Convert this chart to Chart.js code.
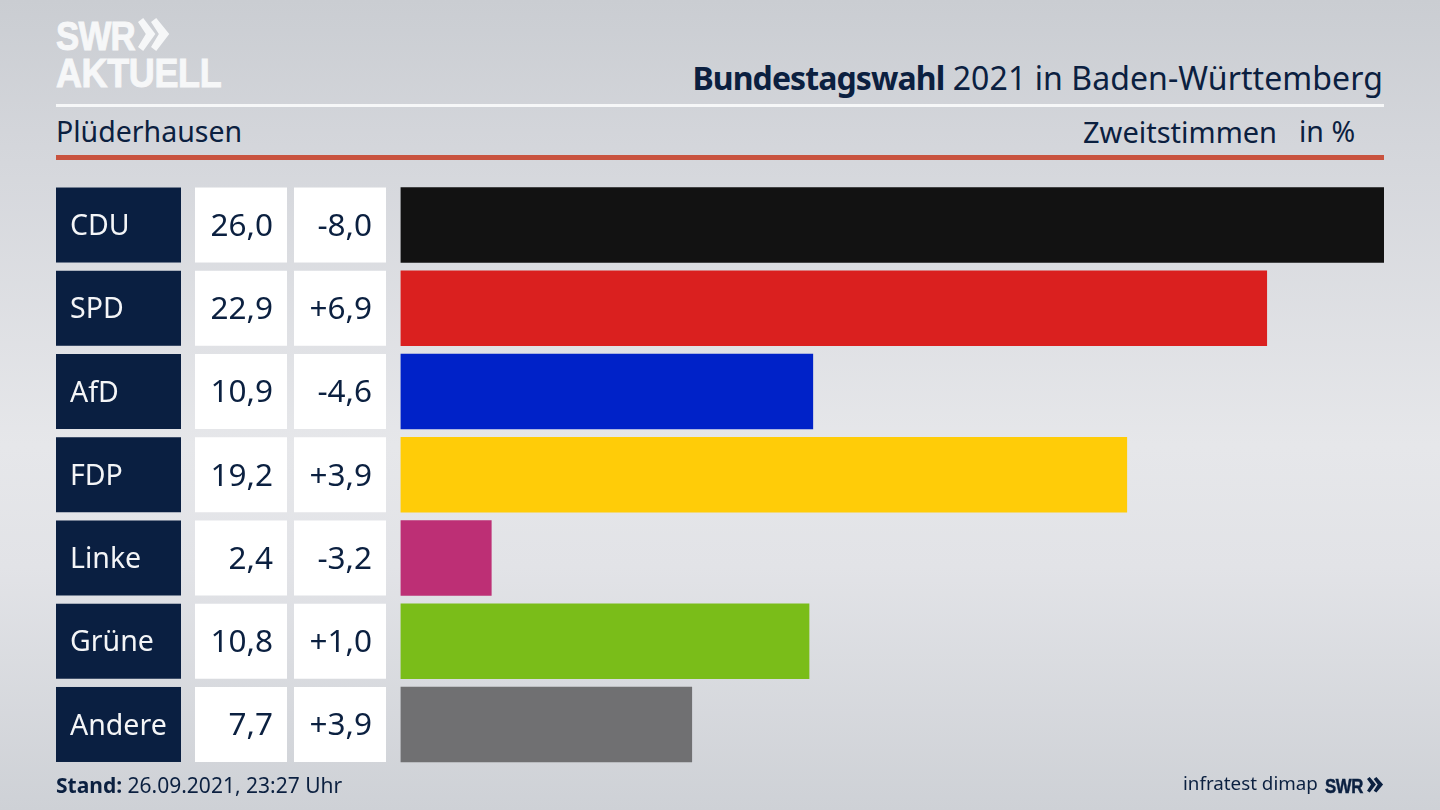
<!DOCTYPE html>
<html lang="de">
<head>
<meta charset="utf-8">
<title>Bundestagswahl 2021 in Baden-Württemberg</title>
<script src="https://cdn.jsdelivr.net/npm/chart.js@4"></script>
<style>
    html, body {
        margin: 0;
        width: 1440px;
        height: 810px;
        overflow: hidden;
    }

    body {
        position: relative;
        background: linear-gradient(180deg, #cacdd2 0%, #d5d7dc 20%, #e6e7ea 55%, #e2e3e7 70%, #ced1d6 100%);
        font-family: "Noto Sans", sans-serif;
        color: #0b2040;
    }

    canvas {
        position: absolute;
        left: 0;
        top: 0;
    }

    .txt {
        position: absolute;
        white-space: nowrap;
        line-height: 1;
    }

    .rule {
        position: absolute;
        left: 56px;
        width: 1328px;
    }

    .logo {
        color: #f6f7f8;
        font-family: "Liberation Sans", sans-serif;
        font-weight: 700;
        transform-origin: left top;
        -webkit-text-stroke: 1px #f6f7f8;
    }
</style>
</head>
<body>

<div class="txt logo" style="left:56px; top:16px; font-size:41px; letter-spacing:-1px; transform:scaleX(0.85);">SWR</div>
<svg style="position:absolute; left:138px; top:18px;" width="33" height="34" viewBox="0 0 38 34" preserveAspectRatio="none">
    <polygon fill="#f6f7f8" points="0,4 6,0 20,16 6,33 0,29 9,16"/>
    <polygon fill="#f6f7f8" points="15,4 21,0 36,16 21,33 15,29 24,16"/>
</svg>
<div class="txt logo" style="left:56px; top:53px; font-size:41px; letter-spacing:-0.4px; transform:scaleX(0.877);">AKTUELL</div>

<div class="txt" style="right:57px; top:62px; font-size:32px; letter-spacing:0.08px;"><b style="letter-spacing:-0.9px;">Bundestagswahl</b> 2021 in Baden-Württemberg</div>
<div class="rule" style="top:104px; height:3px; background:#f6f7f8;"></div>

<div class="txt" style="left:56px; top:116.5px; font-size:28.5px;">Plüderhausen</div>
<div class="txt" style="left:1083px; top:116.5px; font-size:29px;">Zweitstimmen</div>
<div class="txt" style="left:1299px; top:116.5px; font-size:28.5px;">in %</div>
<div class="rule" style="top:155px; height:5px; background:#c9533f;"></div>

<canvas id="chart" width="1440" height="810"></canvas>

<div class="txt" style="left:56px; top:775px; font-size:21px;"><b>Stand:</b> 26.09.2021, 23:27 Uhr</div>
<div class="txt" style="left:1183px; top:774px; font-size:18.8px;">infratest dimap</div>
<div class="txt" style="left:1325px; top:775px; font-size:21px; font-weight:700; font-family:'Liberation Sans', sans-serif; letter-spacing:-0.5px; transform-origin:left top; transform:scaleX(0.8); -webkit-text-stroke:0.5px #0b2040;">SWR</div>
<svg style="position:absolute; left:1367px; top:777px;" width="17" height="16" viewBox="0 0 38 34" preserveAspectRatio="none">
    <polygon fill="#0b2040" points="0,4 6,0 20,16 6,33 0,29 9,16"/>
    <polygon fill="#0b2040" points="15,4 21,0 36,16 21,33 15,29 24,16"/>
</svg>

<script>
    var parties = ["CDU", "SPD", "AfD", "FDP", "Linke", "Grüne", "Andere"];
    var shares = [26.0, 22.9, 10.9, 19.2, 2.4, 10.8, 7.7];
    var changes = [-8.0, 6.9, -4.6, 3.9, -3.2, 1.0, 3.9];
    var bar_colors = ["#121212", "#da201f", "#0022c8", "#ffcc08", "#bd2f75", "#7abd19", "#707072"];

    var navy = "#0a1f41";
    var text_color = "#0b2040";
    var bar_height = 75;

    function format_share (value) {
        return value.toFixed(1).replace(".", ",");
    }

    function format_change (value) {
        return (value > 0 ? "+" : "-") + Math.abs(value).toFixed(1).replace(".", ",");
    }

    // The three table columns left of the bars, one row per category tick
    var table_plugin = {
        "id": "table_columns",
        "afterDatasetsDraw": function (chart) {
            var ctx = chart.ctx;
            var y_scale = chart.scales.y;

            ctx.save();
            ctx.textBaseline = "middle";

            parties.forEach(function (party, i) {
                var center = y_scale.getPixelForTick(i);
                var top = center - bar_height / 2;

                ctx.fillStyle = navy;
                ctx.fillRect(56, top, 125, bar_height);

                ctx.fillStyle = "#ffffff";
                ctx.fillRect(195, top, 92, bar_height);
                ctx.fillRect(294, top, 92, bar_height);

                ctx.font = "28.5px 'Noto Sans'";
                ctx.textAlign = "left";
                ctx.fillStyle = "#f4f5f7";
                ctx.fillText(party, 70, center + 2);

                ctx.font = "31.5px 'Noto Sans'";
                ctx.textAlign = "right";
                ctx.fillStyle = text_color;
                ctx.fillText(format_share(shares[i]), 273, center + 2);
                ctx.fillText(format_change(changes[i]), 372, center + 2);
            });

            ctx.restore();
        }
    };

    new Chart(document.getElementById("chart").getContext("2d"), {
        "type": "bar",
        "data": {
            "labels": parties,
            "datasets": [{
                "data": shares,
                "backgroundColor": bar_colors,
                "barThickness": bar_height,
                "borderWidth": 0
            }]
        },
        "options": {
            "indexAxis": "y",
            "responsive": false,
            "animation": false,
            "devicePixelRatio": 1,
            "layout": {
                "padding": {"left": 400.5, "right": 56, "top": 183.4, "bottom": 43.9}
            },
            "scales": {
                "x": {"display": false, "min": 0, "max": 26},
                "y": {"display": false}
            },
            "plugins": {
                "legend": {"display": false},
                "tooltip": {"enabled": false},
                "title": {"display": false}
            }
        },
        "plugins": [table_plugin]
    });
</script>
</body>
</html>
